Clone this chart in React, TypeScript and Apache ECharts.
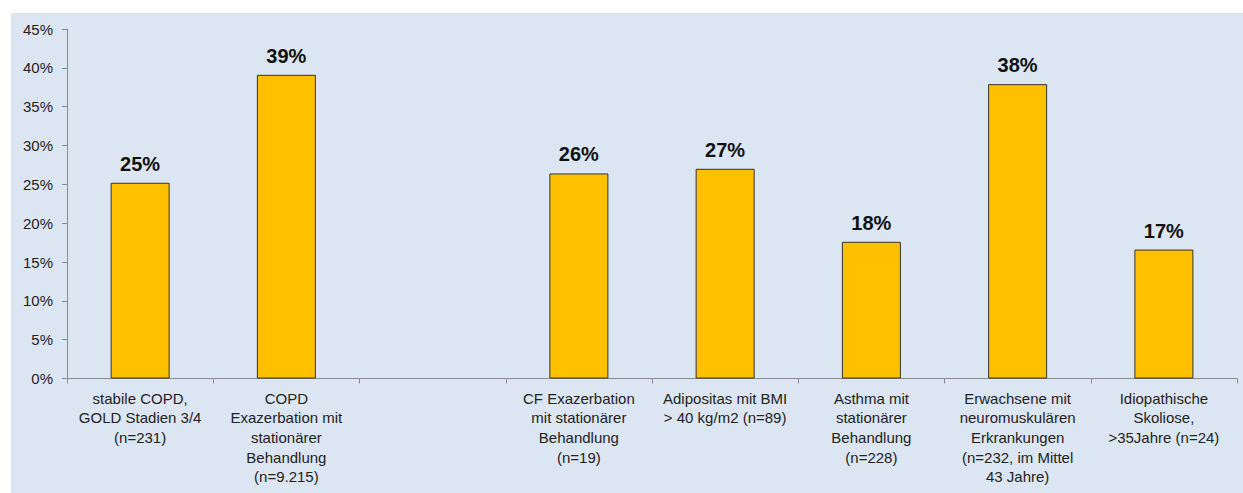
import React, { useEffect, useRef } from "react";
import * as echarts from "echarts";

const categories: string[] = [
  "stabile COPD,\nGOLD Stadien 3/4\n(n=231)",
  "COPD\nExazerbation mit\nstationärer\nBehandlung\n(n=9.215)",
  "",
  "CF Exazerbation\nmit stationärer\nBehandlung\n(n=19)",
  "Adipositas mit BMI\n> 40 kg/m2 (n=89)",
  "Asthma mit\nstationärer\nBehandlung\n(n=228)",
  "Erwachsene mit\nneuromuskulären\nErkrankungen\n(n=232, im Mittel\n43 Jahre)",
  "Idiopathische\nSkoliose,\n>35Jahre (n=24)",
];

const values: (number | null)[] = [25.2, 39.1, null, 26.4, 27.0, 17.6, 37.9, 16.6];

const yTicks = { min: 0, max: 45, interval: 5 };

export default function App() {
  const ref = useRef<HTMLDivElement>(null);
  useEffect(() => {
    if (!ref.current) return;
    const chart = echarts.init(ref.current, undefined, { renderer: "svg" });
    const font = "'Liberation Sans', Arial, sans-serif";
    chart.setOption({
      animation: false,
      backgroundColor: "#ffffff",
      graphic: [
        {
          type: "rect",
          z: -10,
          silent: true,
          shape: { x: 11, y: 13, width: 1243, height: 493 },
          style: { fill: "#dce6f2" },
        },
      ],
      grid: { left: 67, right: 6, top: 29, bottom: 114.5, containLabel: false },
      xAxis: {
        type: "category",
        data: categories,
        axisLine: { show: true, lineStyle: { color: "#8c8c8c", width: 1 } },
        axisTick: { show: true, alignWithLabel: false, length: 5, lineStyle: { color: "#8c8c8c" } },
        axisLabel: {
          interval: 0,
          margin: 10,
          fontFamily: font,
          fontSize: 15,
          lineHeight: 19.6,
          color: "#222222",
          align: "center",
        },
        splitLine: { show: false },
      },
      yAxis: {
        type: "value",
        min: yTicks.min,
        max: yTicks.max,
        interval: yTicks.interval,
        axisLine: { show: true, lineStyle: { color: "#8c8c8c", width: 1 } },
        axisTick: { show: true, length: 5, lineStyle: { color: "#8c8c8c" } },
        axisLabel: {
          formatter: (v: number) => v + "%",
          fontFamily: font,
          fontSize: 15,
          color: "#222222",
          margin: 14,
        },
        splitLine: { show: false },
      },
      series: [
        {
          type: "bar",
          data: values.map((v) => (v === null ? "-" : v)),
          barWidth: 59,
          itemStyle: { color: "#ffc000", borderColor: "#333333", borderWidth: 1 },
          label: {
            show: true,
            position: "top",
            distance: 9,
            formatter: (p: any) => Math.round(p.value) + "%",
            fontFamily: font,
            fontSize: 20,
            fontWeight: "bold",
            color: "#111111",
          },
        },
      ],
    });
    return () => chart.dispose();
  }, []);
  return (
    <div
      ref={ref}
      style={{ position: "fixed", left: 0, top: 0, width: 1243, height: 493 }}
    />
  );
}
